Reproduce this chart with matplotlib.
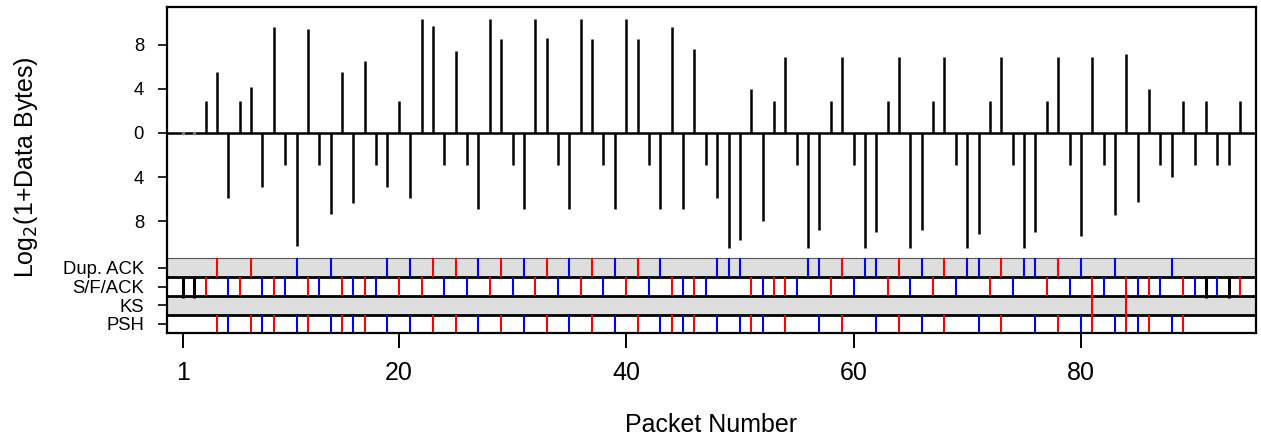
import matplotlib
matplotlib.use("Agg")
import matplotlib.pyplot as plt
import numpy as np

plt.rcParams['font.family'] = ['Liberation Sans', 'DejaVu Sans']

# ---- data ----
packets = list(range(1, 95))
log_bytes = [0, 0, 2.87, 5.53, -5.89, 2.87, 4.14, -4.92, 9.61, -2.87,
             -10.27, 9.43, -2.87, -7.40, 5.50, -6.34, 6.50, -2.87, -4.89, 2.87,
             -5.95, 10.36, 9.70, -2.87, 7.49, -2.87, -6.95, 10.36, 8.55, -2.87,
             -6.95, 10.36, 8.61, -2.87, -6.95, 10.36, 8.55, -2.87, -6.89, 10.36,
             8.55, -2.87, -6.95, 9.67, -6.95, 7.61, -2.87, -5.89, -10.42, -9.73,
             3.99, -8.00, 2.87, 6.86, -2.87, -10.42, -8.82, 2.87, 6.86, -2.87,
             -10.42, -8.97, 2.87, 6.86, -10.42, -8.82, 2.87, 6.86, -2.87, -10.42,
             -9.15, 2.87, 6.86, -2.87, -10.42, -8.97, 2.87, 6.86, -2.87, -9.37,
             6.86, -2.87, -7.49, 7.19, -6.28, 3.99, -2.87, -4.02, 2.87, -2.87,
             2.87, -2.87, -2.87, 2.87]

dup_ack = [4, 7, 11, 14, 19, 21, 23, 25, 27, 29, 31, 33, 35, 37, 39, 41, 43,
           48, 49, 50, 56, 57, 59, 61, 62, 64, 66, 68, 70, 71, 73, 75, 76, 78,
           80, 83, 88]
sfack = [1, 2, 3, 5, 6, 8, 9, 10, 12, 13, 15, 16, 17, 18, 20, 22, 24, 26, 28,
         30, 32, 34, 36, 38, 40, 42, 44, 45, 46, 47, 51, 52, 53, 54, 55, 58, 60,
         63, 65, 67, 69, 72, 74, 77, 79, 81, 82, 84, 85, 86, 87, 89, 90, 91, 92,
         93, 94]
syn_fin = [1, 2, 91, 93]
ks = [81, 84]
psh = [4, 5, 7, 8, 9, 11, 12, 14, 15, 16, 17, 19, 21, 23, 25, 27, 29, 31, 33,
       35, 37, 39, 41, 43, 44, 45, 46, 48, 50, 51, 52, 54, 57, 59, 62, 64, 66,
       68, 71, 73, 76, 78, 80, 81, 83, 84, 85, 86, 88, 89]

band_names = ["Dup. ACK", "S/F/ACK", "KS", "PSH"]
band_fill = ["#dedede", "white", "#dedede", "white"]
ytick_vals = [8, 4, 0, -4, -8]
ytick_text = ["8", "4", "0", "4", "8"]
xtick_vals = [1, 20, 40, 60, 80]

# ---- figure ----
fig = plt.figure(figsize=(12.61, 4.40), dpi=100)
ax = fig.add_axes([0.1324, 0.2425, 0.9960 - 0.1324, 0.9834 - 0.2425])

top = 11.42
band_h = 1.70
upper_bottom = -11.40
bottom = upper_bottom - 4 * band_h
ax.set_xlim(-0.4, 95.4)
ax.set_ylim(bottom, top)

val = dict(zip(packets, log_bytes))

# stems
ax.vlines(packets, 0, log_bytes, color="black", lw=1.8, zorder=3)
ax.axhline(0, color="black", lw=1.8, zorder=3)
zero_pk = [p for p in packets if val[p] == 0]
ax.plot(zero_pk, [0] * len(zero_pk), ls="none", marker="s", ms=1.5,
        color="#777777", zorder=4)

# bands
band_bounds = []
for i, (name, fc) in enumerate(zip(band_names, band_fill)):
    hi = upper_bottom - i * band_h
    lo = hi - band_h
    band_bounds.append((lo, hi))
    ax.axhspan(lo, hi, facecolor=fc, edgecolor="none", zorder=1)

ax.axhline(upper_bottom, color="#555555", lw=0.8, zorder=4)
for i in range(1, 4):
    ax.axhline(upper_bottom - i * band_h, color="black", lw=2.0, zorder=4)


def colour(p):
    return "red" if val[p] > 0 else "blue"


def draw_band(idx, plist):
    lo, hi = band_bounds[idx]
    for p in plist:
        ax.vlines(p, lo, hi, color=colour(p), lw=1.5, zorder=5)


draw_band(0, dup_ack)
draw_band(1, [p for p in sfack if p not in syn_fin])
lo, hi = band_bounds[1]
ax.vlines(syn_fin, lo - 0.2, hi, color="black", lw=2.2, zorder=6)
draw_band(2, ks)
draw_band(3, psh)

# axes styling
for s in ax.spines.values():
    s.set_linewidth(1.6)
    s.set_zorder(7)

centers = [(lo + hi) / 2 for lo, hi in band_bounds]
ax.set_yticks(ytick_vals + centers)
ax.set_yticklabels(ytick_text + band_names)
ax.tick_params(axis="y", length=6.5, width=1.2, pad=10, labelsize=13.3)
ax.set_xticks(xtick_vals)
ax.set_xticklabels([str(v) for v in xtick_vals])
ax.tick_params(axis="x", length=10.8, width=1.4, pad=9, labelsize=18)

ax.set_xlabel("Packet Number", fontsize=18, labelpad=20)
ax.set_ylabel(r"Log$_2$(1+Data Bytes)", fontsize=18)
ax.yaxis.set_label_coords(-0.1165, 0.51)

fig.savefig("out.png", dpi=100)
